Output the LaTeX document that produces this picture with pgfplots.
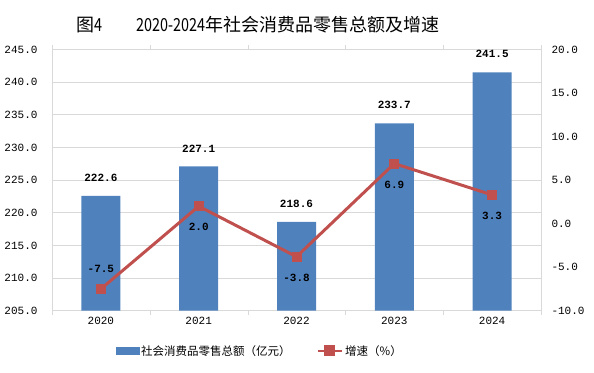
\documentclass[border=0pt]{standalone}
\usepackage{fontspec}
\usepackage{pgfplots}
\pgfplotsset{compat=1.18}
\setmainfont{Liberation Mono}
\newfontfamily\cjk{Noto Sans CJK SC}
\newfontfamily\cjkn{Noto Sans CJK SC}[FakeStretch=0.8]
\definecolor{barblue}{HTML}{4F81BD}
\definecolor{linered}{HTML}{C0504D}
\definecolor{gridgray}{HTML}{D9D9D9}
\begin{document}
\begin{tikzpicture}
\path[use as bounding box] (0,0) rectangle (594pt,372pt);
\node[anchor=west,font=\cjk\fontsize{18}{22}\selectfont,inner sep=0pt] at (76pt,347pt) {图{\cjkn 4}\hspace{34pt}{\cjkn 2020-2024}年社会消费品零售总额及增速};
\begin{axis}[at={(52pt,61.3pt)}, anchor=south west, scale only axis,
  width=489pt, height=261.2pt,
  xmin=-0.5, xmax=4.5, ymin=205, ymax=245,
  ytick={205,210,...,245},
  xtick={0,1,2,3,4}, xticklabels={2020,2021,2022,2023,2024},
  minor xtick={-0.5,0.5,...,4.5},
  major tick length=0pt, minor tick length=4pt,
  xtick align=outside,
  minor tick style={gridgray},
  ymajorgrids, grid style={gridgray, line width=0.8pt},
  axis line style={gridgray, line width=0.8pt},
  tick label style={font=\fontsize{11}{12}\selectfont},
  xticklabel style={yshift=-3pt},
  yticklabel style={xshift=-11pt},
  /pgf/number format/.cd, fixed, fixed zerofill, precision=1, assume math mode=true]
\addplot[ybar, bar width=39pt, fill=barblue, draw=none,
  nodes near coords,
  nodes near coords style={font=\bfseries\fontsize{11}{12}\selectfont, anchor=center, yshift=18pt, text=black}]
  coordinates {(0,222.6) (1,227.1) (2,218.6) (3,233.7) (4,241.5)};
\end{axis}
\begin{axis}[at={(52pt,61.3pt)}, anchor=south west, scale only axis,
  width=489pt, height=261.2pt,
  xmin=-0.5, xmax=4.5, ymin=-10, ymax=20,
  ytick={-10,-5,...,20},
  axis y line*=right, axis x line=none,
  major tick length=0pt,
  axis line style={gridgray, line width=0.8pt},
  tick label style={font=\fontsize{11}{12}\selectfont},
  yticklabel style={xshift=7pt, anchor=west},
  /pgf/number format/.cd, fixed, fixed zerofill, precision=1, assume math mode=true,
  /pgfplots/.cd,
  legend style={at={(0.425,-0.154)}, anchor=center, draw=none, fill=none,
    legend columns=2, font=\cjk\fontsize{11.5}{12}\selectfont,
    /tikz/every even column/.append style={column sep=24pt}},
  legend cell align=left]
\addlegendimage{legend image code/.code={\fill[barblue] (0pt,-3.5pt) rectangle (23pt,3.5pt);}}
\addlegendentry{社会消费品零售总额（亿元）}
\addplot[linered, line width=3pt, mark=square*, mark size=4.5pt,
  mark options={solid, fill=linered, draw=linered, line width=0pt},
  legend image code/.code={\draw[linered, line width=2.5pt] (0pt,0pt) -- (24pt,0pt);
    \fill[linered] (12pt,0pt) +(-4pt,-4pt) rectangle +(4pt,4pt);}]
  coordinates {(0,-7.5) (1,2.0) (2,-3.8) (3,6.9) (4,3.3)};
\addlegendentry{增速（\%）}
\addplot[draw=none, forget plot, nodes near coords,
  nodes near coords style={font=\bfseries\fontsize{11}{12}\selectfont, anchor=center, yshift=20pt, text=black}]
  coordinates {(0,-7.5)};
\addplot[draw=none, forget plot, nodes near coords,
  nodes near coords style={font=\bfseries\fontsize{11}{12}\selectfont, anchor=center, yshift=-21pt, text=black}]
  coordinates {(1,2.0) (2,-3.8) (3,6.9) (4,3.3)};
\end{axis}
\end{tikzpicture}
\end{document}
